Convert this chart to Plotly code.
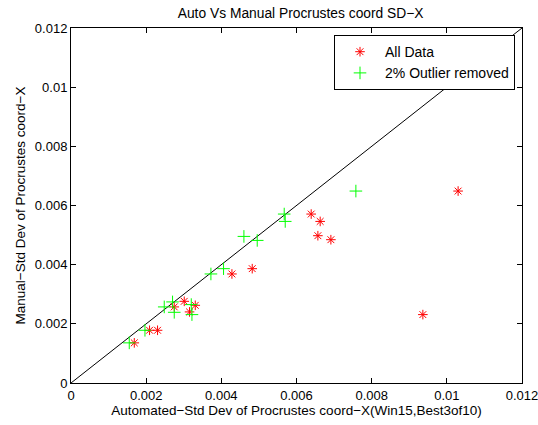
import plotly.graph_objects as go

# All data (automated SD, manual SD)
all_x = [0.001684, 0.00209, 0.002303, 0.002747, 0.003013, 0.003154, 0.003306,
         0.004282, 0.004822, 0.006391, 0.00663, 0.006569, 0.006915, 0.009362, 0.0103]
all_y = [0.001357, 0.001782, 0.001782, 0.002572, 0.002761, 0.002403, 0.002626,
         0.003686, 0.003865, 0.005711, 0.005462, 0.004979, 0.004844, 0.002312, 0.006488]

# 2% outlier removed
out_x = [0.00155, 0.001968, 0.002481, 0.002702, 0.002747, 0.0032, 0.003218,
         0.003723, 0.004059, 0.004601, 0.004955, 0.005673, 0.0057, 0.00758]
out_y = [0.001357, 0.001782, 0.002572, 0.002741, 0.00239, 0.00265, 0.002312,
         0.003686, 0.003865, 0.004955, 0.00482, 0.005711, 0.005462, 0.006488]

# identity line
diag = [0, 0.012]

tick_vals = [0, 0.002, 0.004, 0.006, 0.008, 0.01, 0.012]
tick_text = ["0", "0.002", "0.004", "0.006", "0.008", "0.01", "0.012"]

FONT = "Liberation Sans, Arial, Helvetica, sans-serif"
FS = 13.5

fig = go.Figure()
fig.add_trace(go.Scatter(x=diag, y=diag, mode="lines",
                         line=dict(color="black", width=1), showlegend=False,
                         hoverinfo="skip"))
fig.add_trace(go.Scatter(x=all_x, y=all_y, mode="markers", name="All Data",
                         marker=dict(symbol="asterisk-open", size=8, color="red",
                                     line=dict(color="red", width=1))))
fig.add_trace(go.Scatter(x=out_x, y=out_y, mode="markers", name="2% Outlier removed",
                         marker=dict(symbol="cross-thin-open", size=9, color="#00ff00",
                                     line=dict(color="#00ff00", width=1))))

axis_common = dict(
    range=[0, 0.012], tickvals=tick_vals, ticktext=tick_text,
    ticks="inside", ticklen=5, tickcolor="black", tickwidth=1,
    showline=True, linecolor="black", linewidth=1, mirror="ticks",
    showgrid=False, zeroline=False, ticklabeloverflow="allow", automargin=False,
    tickfont=dict(family=FONT, size=13, color="black"),
)

fig.update_layout(
    width=538, height=425,
    margin=dict(l=71, r=16, t=28, b=42, autoexpand=False),
    paper_bgcolor="white", plot_bgcolor="white",
    font=dict(family=FONT, size=FS, color="black"),
    title=dict(text="Auto Vs Manual Procrustes coord SD\u2212X", x=0.5588, xanchor="center",
               y=0.97, yanchor="middle", font=dict(family=FONT, size=13.8, color="black")),
    xaxis=dict(**axis_common,
               title=dict(text="Automated\u2212Std Dev of Procrustes coord\u2212X(Win15,Best3of10)",
                          standoff=2, font=dict(family=FONT, size=FS, color="black"))),
    yaxis=dict(**axis_common,
               title=dict(text="Manual\u2212Std Dev of Procrustes coord\u2212X",
                          standoff=6, font=dict(family=FONT, size=FS, color="black"))),
    legend=dict(x=0.9845, y=0.98, xanchor="right", yanchor="top",
                bgcolor="white", bordercolor="black", borderwidth=1,
                font=dict(family=FONT, size=14, color="black"),
                tracegroupgap=0, itemwidth=40),
    showlegend=True,
)

fig.write_html("out.html")
